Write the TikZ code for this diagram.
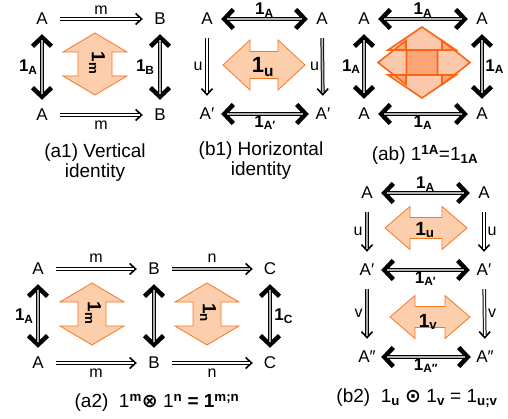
\documentclass[tikz,border=0pt]{standalone}
\usepackage{fontspec}
\setmainfont{Liberation Sans}
\newfontfamily\symfont{DejaVu Sans}
\usepackage{tikz}
\usetikzlibrary{arrows.meta}
\definecolor{peach}{RGB}{252,206,172}
\definecolor{cellorange}{RGB}{247,118,38}
\definecolor{deeporange}{RGB}{250,100,20}
% double block arrow: [options]{centre}{half length}{half head}{half shaft}{head length}
\newcommand{\twocell}[6][]{%
  \filldraw[cellfill, shift={#2}, #1]
    (-#3,0) -- (-#3+#6,-#4) -- (-#3+#6,-#5) -- (#3-#6,-#5) -- (#3-#6,-#4)
    -- (#3,0) -- (#3-#6,#4) -- (#3-#6,#5) -- (-#3+#6,#5) -- (-#3+#6,#4) -- cycle;}

\begin{document}
\begin{tikzpicture}[
    x=1pt, y=-1pt,
    obj/.style={font=\fontsize{17}{17}\selectfont, inner sep=0pt, minimum width=24pt, minimum height=26pt},
    lbl/.style={font=\fontsize{16}{16}\selectfont, inner sep=1pt},
    idl/.style={font=\fontsize{17}{17}\selectfont\bfseries, inner sep=1pt},
    cellbl/.style={font=\fontsize{19}{19}\selectfont\bfseries, inner sep=0pt},
    caption/.style={font=\fontsize{19}{20}\selectfont, align=center},
    celltip/.style={line width=1pt, shorten <=6pt, shorten >=5pt, -{Straight Barb[length=6pt, width=11pt, line width=1.6pt]}},
    cellline/.style={line width=1pt, double=white, double distance=1.6pt, shorten <=6pt, shorten >=8pt},
    idtip/.style={line width=1pt, shorten <=2pt, shorten >=2pt, {Straight Barb[length=9pt, width=19pt, line width=4.5pt]}-{Straight Barb[length=9pt, width=19pt, line width=4.5pt]}},
    idline/.style={line width=0.9pt, double=gray!60, double distance=2pt, shorten <=8pt, shorten >=8pt},
    cellfill/.style={fill=peach, draw=cellorange, line width=0.8pt},
    glass/.style={fill=deeporange, fill opacity=0.35, draw=deeporange, line width=1.6pt}
  ]
  \useasboundingbox (0,0) rectangle (508,419);

  % (a1) vertical identity
  \twocell[rotate=90]{(95,64)}{31}{32}{17}{19}
  \node[cellbl, rotate=-90] (a1m) at (97,63) {1\textsubscript{m}};
  \node[obj] (a1A)  at (42,19)  {A};
  \node[obj] (a1B)  at (160,19) {B};
  \node[obj] (a1Ad) at (42,115) {A};
  \node[obj] (a1Bd) at (160,115) {B};
  \path (a1A) edge[celltip] (a1B) edge[cellline] node[lbl, above=3pt] {m} (a1B);
  \path (a1Ad) edge[celltip] (a1Bd) edge[cellline] node[lbl, below=4pt] {m} (a1Bd);
  \path (a1A) edge[idtip] (a1Ad) edge[idline] node[idl, left=3pt] {1\textsubscript{A}} (a1Ad);
  \path (a1B) edge[idtip] (a1Bd) edge[idline] node[idl, left=4pt] {1\textsubscript{B}} (a1Bd);
  \node[caption] (a1cap) at (95,163) {(a1) Vertical\\identity};

  % (b1) horizontal identity
  \twocell{(264,65)}{41}{25}{13.5}{27}
  \node[cellbl, font=\fontsize{22}{22}\selectfont\bfseries] (b1u) at (263,67) {1\textsubscript{u}};
  \node[obj] (b1A)  at (207,19)  {A};
  \node[obj] (b1B)  at (322,19)  {A};
  \node[obj] (b1Ad) at (207,114) {A′};
  \node[obj] (b1Bd) at (323,114) {A′};
  \path (b1A) edge[idtip] (b1B) edge[idline] node[idl, above=0pt] {1\textsubscript{A}} (b1B);
  \path (b1Ad) edge[idtip] (b1Bd) edge[idline] node[idl, below=0pt] {1\textsubscript{A′}} (b1Bd);
  \path (b1A) edge[celltip] (b1Ad) edge[cellline] node[lbl, left=3pt] {u} (b1Ad);
  \path (b1B) edge[celltip] (b1Bd) edge[cellline, double=gray!50] node[lbl, left=2pt] {u} (b1Bd);
  \node[caption] (b1cap) at (261,161) {(b1) Horizontal\\identity};

  % (ab) identity of an identity
  \twocell[glass, rotate=90]{(422,62.5)}{35.5}{34}{15.5}{23}
  \twocell[glass]{(424,62.5)}{46}{22}{12.5}{28}
  \node[obj] (abA)  at (364,19)  {A};
  \node[obj] (abB)  at (482,19)  {A};
  \node[obj] (abAd) at (364,114) {A};
  \node[obj] (abBd) at (482,114) {A};
  \path (abA) edge[idtip] (abB) edge[idline] node[idl, above=0pt] {1\textsubscript{A}} (abB);
  \path (abAd) edge[idtip] (abBd) edge[idline] node[idl, below=0pt] {1\textsubscript{A}} (abBd);
  \path (abA) edge[idtip] (abAd) edge[idline] node[idl, left=2pt] {1\textsubscript{A}} (abAd);
  \path (abB) edge[idtip] (abBd) edge[idline] node[idl, right=2pt] {1\textsubscript{A}} (abBd);
  \node[caption] (abcap) at (425,155) {(ab) 1\textsuperscript{\textbf{1A}}=1\textsubscript{\textbf{1A}}};

  % (a2) horizontal composite of vertical identities
  \twocell[rotate=90]{(92,314)}{31}{32}{14}{19}
  \twocell[rotate=90]{(207,314)}{31}{32}{14}{19}
  \node[cellbl, rotate=-90] (a2m) at (93,313) {1\textsubscript{m}};
  \node[cellbl, rotate=-90] (a2n) at (208,313) {1\textsubscript{n}};
  \node[obj] (a2A)  at (38,269)  {A};
  \node[obj] (a2B)  at (154,269) {B};
  \node[obj] (a2C)  at (270,269) {C};
  \node[obj] (a2Ad) at (38,363)  {A};
  \node[obj] (a2Bd) at (154,363) {B};
  \node[obj] (a2Cd) at (270,363) {C};
  \path (a2A) edge[celltip] (a2B) edge[cellline] node[lbl, above=5pt] {m} (a2B);
  \path (a2B) edge[celltip] (a2C) edge[cellline, double=gray!50] node[lbl, above=5pt] {n} (a2C);
  \path (a2Ad) edge[celltip] (a2Bd) edge[cellline] node[lbl, below=4pt] {m} (a2Bd);
  \path (a2Bd) edge[celltip] (a2Cd) edge[cellline] node[lbl, below=4pt] {n} (a2Cd);
  \path (a2A) edge[idtip] (a2Ad) edge[idline] node[idl, left=3pt] {1\textsubscript{A}} (a2Ad);
  \path (a2B) edge[idtip] (a2Bd) edge[idline] (a2Bd);
  \path (a2C) edge[idtip] (a2Cd) edge[idline] node[idl, right=3pt] {1\textsubscript{C}} (a2Cd);
  \node[caption] (a2cap) at (157,403) {(a2)\ \ 1\textsuperscript{\textbf{m}}{\symfont\bfseries ⊗} 1\textsuperscript{\textbf{n}} \textbf{= 1\textsuperscript{m;n}}};

  % (b2) vertical composite of horizontal identities
  \twocell{(426,228)}{41}{21.5}{10.5}{25}
  \twocell{(430,317)}{40}{21.5}{10.5}{25}
  \node[cellbl] (b2u) at (425,230) {1\textsubscript{u}};
  \node[cellbl] (b2v) at (428,322) {1\textsubscript{v}};
  \node[obj] (b2A)  at (367,193) {A};
  \node[obj] (b2B)  at (484,193) {A};
  \node[obj] (b2Am) at (367,270) {A′};
  \node[obj] (b2Bm) at (484,270) {A′};
  \node[obj] (b2Ad) at (367,357) {A″};
  \node[obj] (b2Bd) at (485,357) {A″};
  \path (b2A) edge[idtip] (b2B) edge[idline] node[idl, above=0pt] {1\textsubscript{A}} (b2B);
  \path (b2Am) edge[idtip] (b2Bm) edge[idline] node[idl, below=0pt] {1\textsubscript{A′}} (b2Bm);
  \path (b2Ad) edge[idtip] (b2Bd) edge[idline] node[idl, below=0pt] {1\textsubscript{A″}} (b2Bd);
  \path (b2A) edge[celltip] (b2Am) edge[cellline, double=gray!70] node[lbl, left=3pt] {u} (b2Am);
  \path (b2B) edge[celltip] (b2Bm) edge[cellline] node[lbl, right=2pt] {u} (b2Bm);
  \path (b2Am) edge[celltip] (b2Ad) edge[cellline, double=gray!70] node[lbl, left=3pt] {v} (b2Ad);
  \path (b2Bm) edge[celltip] (b2Bd) edge[cellline] node[lbl, right=2pt] {v} (b2Bd);
  \node[caption] (b2cap) at (417,398) {(b2)\ \ 1\textsubscript{\textbf{u}} {\symfont\bfseries ⊙} 1\textsubscript{\textbf{v}} = 1\textsubscript{\textbf{u;v}}};
\end{tikzpicture}
\end{document}
